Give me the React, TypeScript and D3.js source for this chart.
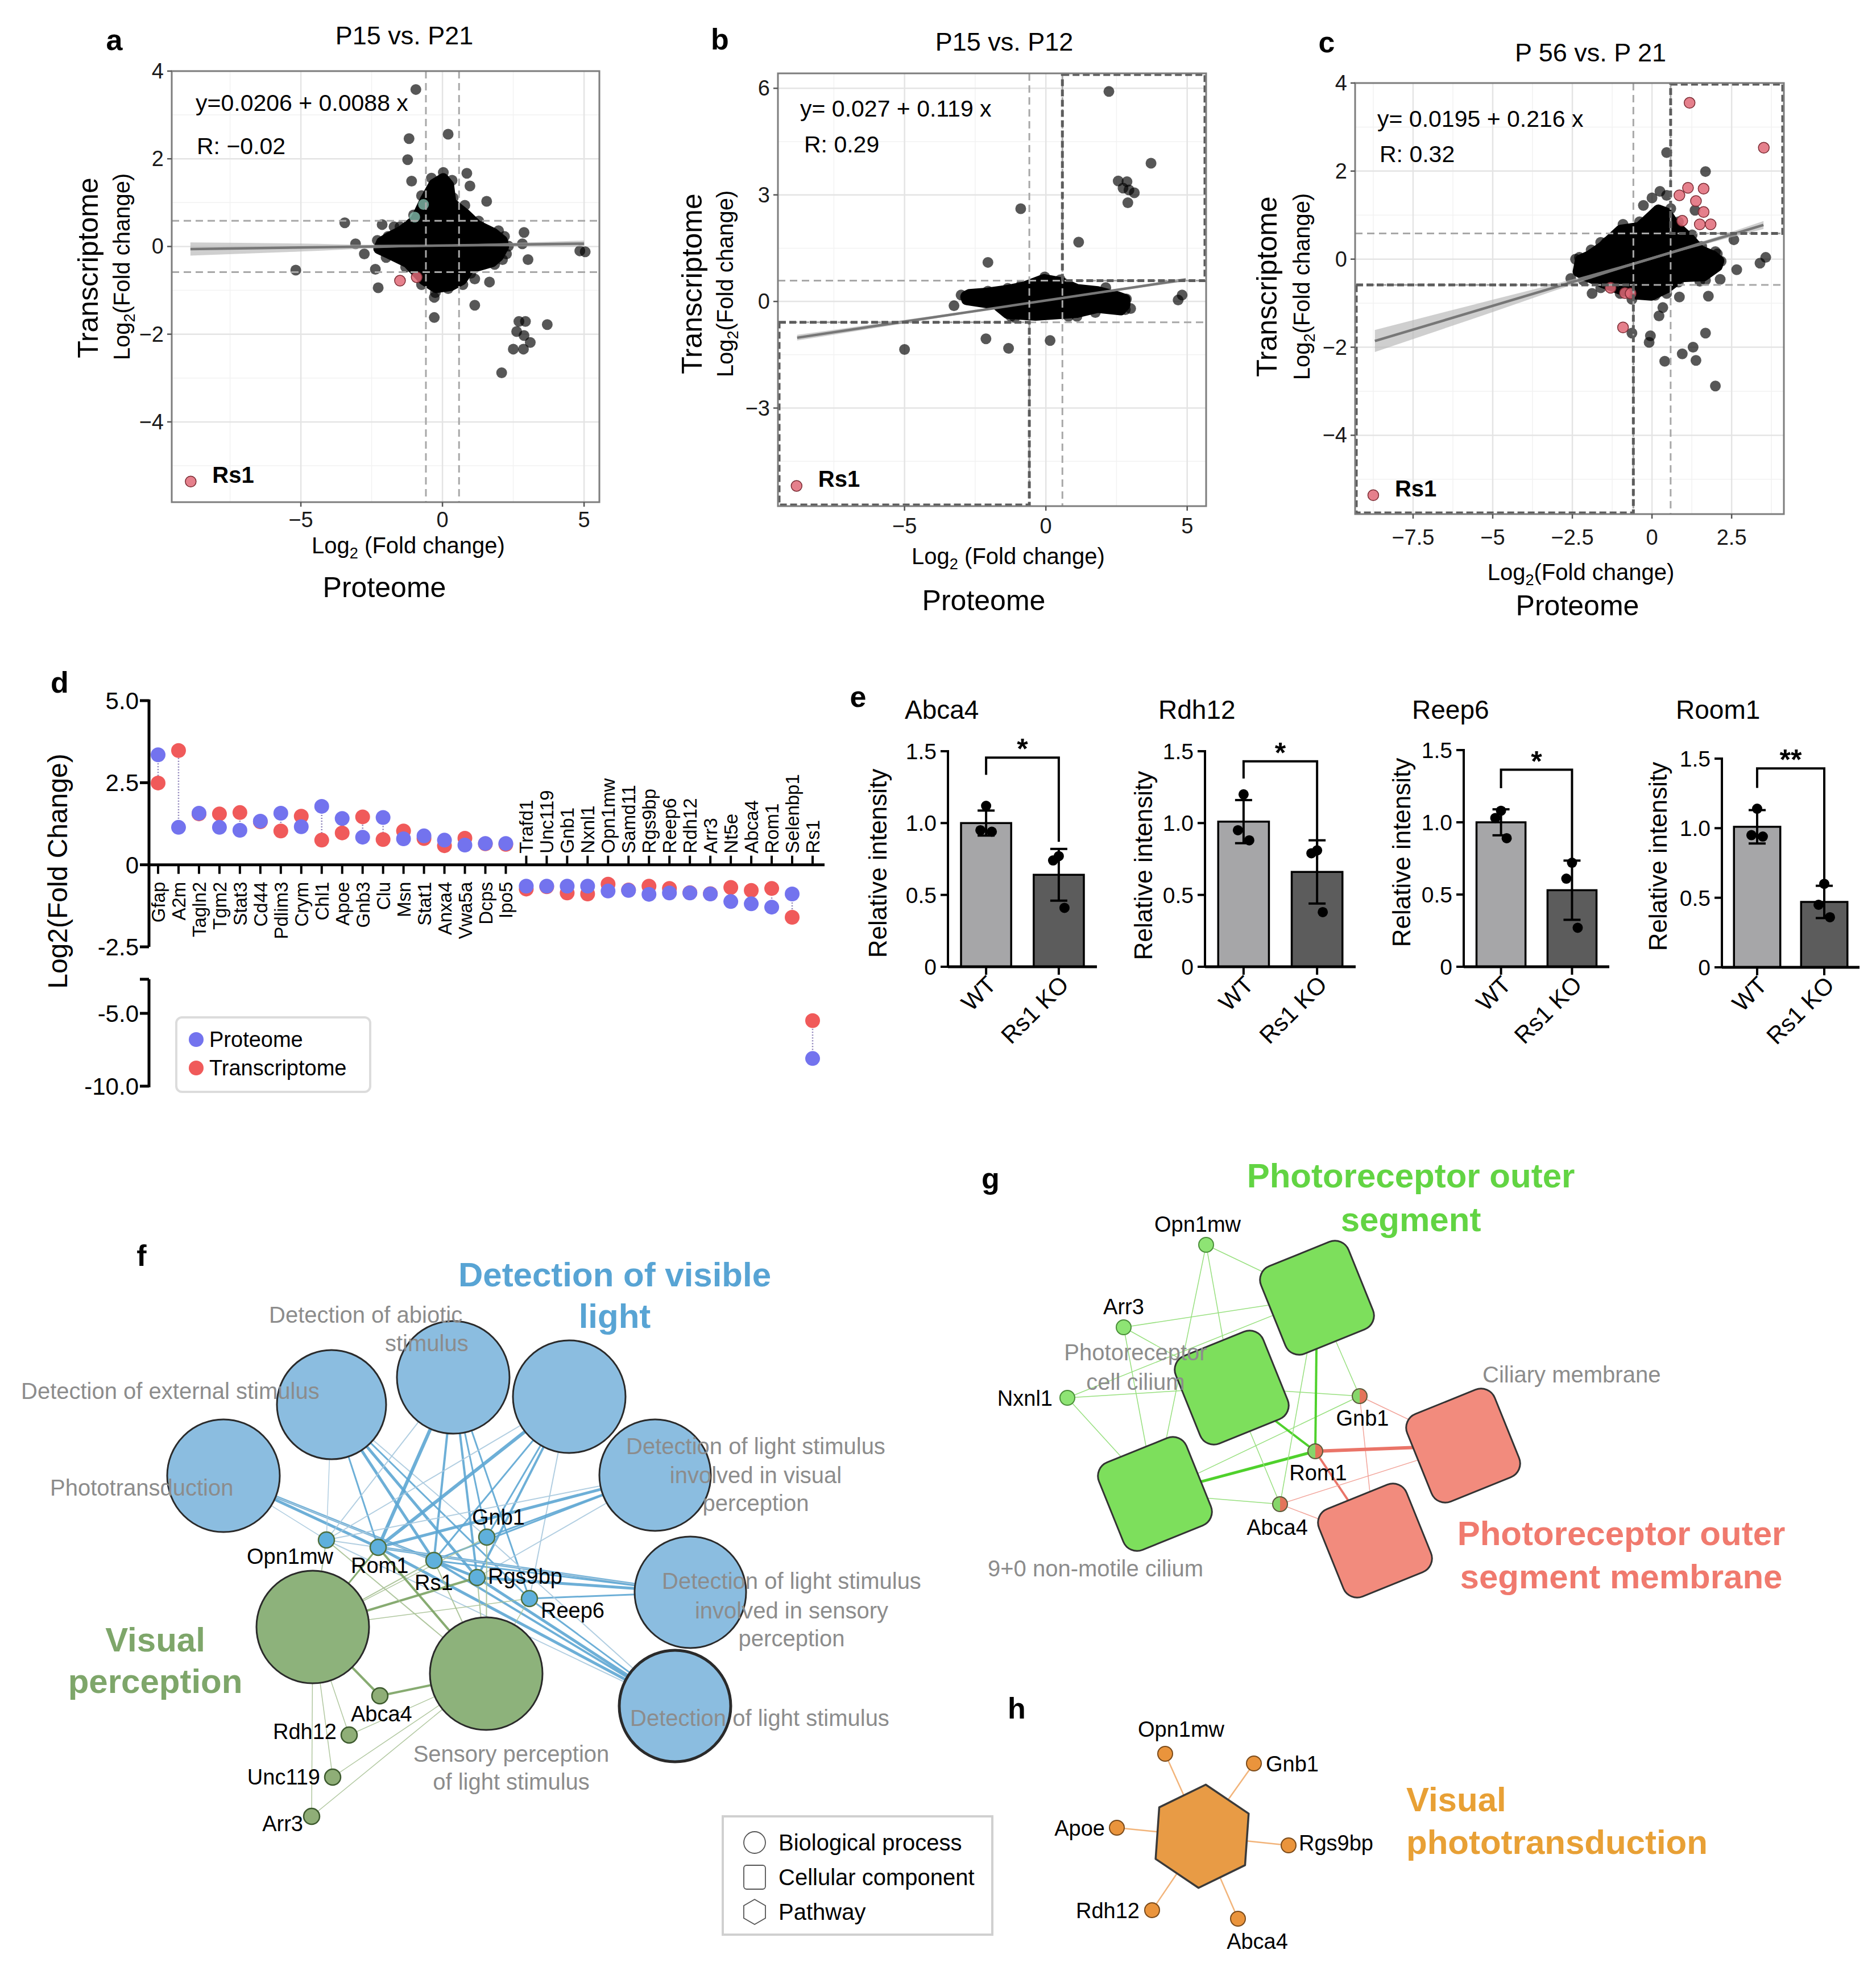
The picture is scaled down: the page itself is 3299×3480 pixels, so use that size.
import React from "react";
import * as d3 from "d3";

const FONT = "'Liberation Sans', Arial, Helvetica, sans-serif";
const THR = 0.585;

// ================= Panel a data =================
const aHull = [
  [-2.15, 0.1], [-1.9, 0.2], [-1.45, 0.35], [-0.95, 0.6], [-0.62, 1.05], [-0.3, 1.42], [0.03, 1.55],
  [0.22, 1.4], [0.3, 1.0], [0.8, 0.74], [1.22, 0.48], [1.8, 0.3], [2.12, 0.13], [2.16, 0.0],
  [1.98, -0.22], [1.75, -0.35], [0.95, -0.5], [0.68, -0.76], [0.3, -0.89], [-0.22, -0.94],
  [-0.66, -0.76], [-1.22, -0.37], [-1.92, -0.15], [-2.25, -0.05],
];
const aGray = [
  [-0.94, 3.58], [-1.18, 2.46], [0.2, 2.56], [-1.23, 1.98], [-1.09, 1.49], [0.86, 1.67], [0.97, 1.38],
  [1.56, 1.03], [0.79, 0.94], [-3.45, 0.54], [-2.13, 0.5], [-3.07, 0.06], [-2.76, -0.17], [-2.37, -0.52],
  [-2.27, -0.94], [-5.18, -0.54], [-0.29, -1.16], [-0.29, -1.62], [1.14, -1.34], [1.66, -0.81],
  [1.14, -0.74], [0.2, -0.96], [1.84, -0.41], [2.26, -0.17], [3.02, -0.3], [2.88, 0.32], [2.82, 0.06],
  [5.04, -0.12], [4.85, -0.1], [1.98, 0.36], [2.19, 0.23], [-1.71, 0.45], [-1.92, 0.23],
  [2.7, -1.71], [2.93, -1.71], [2.62, -1.94], [2.88, -2.03], [3.1, -2.19], [2.5, -2.34], [2.86, -2.34],
  [3.7, -1.78], [2.09, -2.88],
  [-2.3, 0.14], [-1.5, 0.45], [-1.02, 0.72], [-0.74, 1.16], [-0.39, 1.56], [0.03, 1.69], [0.34, 1.51],
  [0.38, 1.11], [1.28, 0.58], [2.33, 0.01], [2.12, -0.3], [1.0, -0.61], [0.72, -0.87], [-0.25, -1.05],
  [-0.74, -0.87], [-1.3, -0.47], [-1.99, -0.25],
];
const aRed = [[-8.89, -5.36], [-1.5, -0.78], [-0.91, -0.7]];
const aTeal = [[-0.67, 0.96], [-0.98, 0.67]];
const aFit = [0.0206, 0.0088];
const aFitRange = [-8.9, 5.0];
const aBand = [[-8.9, 0.15], [-5, 0.09], [-2.5, 0.04], [0, 0.02], [2.5, 0.04], [5.0, 0.07]];

// ================= Panel b data =================
const bHull = [
  [-2.82, 0.15], [-2.7, 0.2], [-2.05, 0.24], [-1.32, 0.32], [-0.8, 0.4], [-0.07, 0.62], [0.55, 0.53],
  [1.1, 0.34], [1.83, 0.28], [2.55, 0.13], [2.8, 0.06], [2.8, -0.1], [2.65, -0.24], [1.83, -0.17],
  [1.1, -0.31], [-0.37, -0.39], [-1.35, -0.34], [-1.75, -0.08], [-2.4, 0.0], [-2.8, 0.05],
];
const bGray = [
  [2.23, 5.91], [3.72, 3.89], [2.56, 3.39], [2.87, 3.37], [2.73, 3.19], [2.94, 3.14], [3.13, 3.06],
  [2.9, 2.78], [-0.89, 2.61], [1.16, 1.67], [-2.05, 1.1], [-3.25, -0.12], [-5.0, -1.35], [-2.12, -1.05],
  [-1.32, -1.32], [0.15, -1.1], [4.68, 0.04], [4.82, 0.18],
  [-0.04, 0.69], [-0.88, 0.45], [-1.35, 0.37], [-2.05, 0.29], [-2.85, 0.12], [-1.24, -0.42],
  [-1.1, -0.45], [0.8, -0.42], [2.16, -0.15], [2.81, -0.23], [2.85, 0.07], [2.12, 0.39], [0.51, 0.61],
  [1.1, -0.42], [1.75, -0.31], [-3.0, 0.18], [3.0, -0.2],
];
const bRed = [[-8.82, -5.19]];
const bFit = [0.027, 0.119];
const bFitRange = [-8.8, 4.95];
const bBand = [[-8.8, 0.08], [-5, 0.05], [0, 0.015], [2.5, 0.03], [4.95, 0.05]];

// ================= Panel c data =================
const cHull = [
  [-2.25, -0.02], [-1.95, 0.08], [-1.55, 0.28], [-0.98, 0.66], [-0.4, 0.72], [-0.05, 0.95], [0.2, 1.12],
  [0.45, 1.05], [0.7, 0.78], [1.2, 0.45], [1.5, 0.2], [1.92, 0.07], [2.1, -0.04], [2.05, -0.16],
  [1.62, -0.38], [0.92, -0.4], [0.44, -0.66], [-0.02, -0.82], [-0.6, -0.79], [-1.08, -0.66],
  [-1.56, -0.53], [-2.1, -0.37], [-2.32, -0.28],
];
const cGray = [
  [0.46, 2.42], [1.68, 1.99], [1.35, 1.11], [0.25, 1.54], [0.0, 1.39], [-0.27, 1.22], [0.46, 1.45],
  [-0.91, 0.79], [0.59, 1.15], [2.57, 0.44], [3.39, -0.09], [3.57, 0.04], [2.66, -0.24], [2.14, -0.46],
  [1.77, -0.84], [0.86, -0.86], [0.34, -1.1], [0.22, -1.29], [-1.88, -0.78], [-2.55, -0.44],
  [-0.05, -1.74], [-0.09, -1.89], [1.68, -1.68], [-0.63, -1.68], [0.4, -2.32], [0.95, -2.15],
  [1.29, -2.0], [1.38, -2.3], [1.99, -2.88],
  [-2.28, 0.04], [-1.91, 0.21], [-1.43, 0.38], [-1.0, -0.78], [0.1, -0.82], [0.83, -0.52], [1.5, -0.5],
  [2.17, -0.05], [2.05, 0.12], [-2.4, 0.0], [-1.61, 0.38], [-0.39, 0.85], [0.83, 0.85], [1.26, 0.55],
  [1.56, 0.29], [1.99, 0.17], [1.68, -0.48], [0.46, -0.78], [-0.63, -0.91], [-1.61, -0.65], [-2.16, -0.48],
];
const cRed = [
  [-8.75, -5.36], [3.51, 2.53], [1.18, 3.55], [1.13, 1.62], [1.62, 1.6], [0.86, 1.45], [0.95, 0.87],
  [1.62, 1.07], [1.5, 0.79], [1.84, 0.79], [1.38, 1.32], [-0.91, -1.55], [-1.3, -0.65], [-0.85, -0.77],
  [-0.67, -0.78],
];
const cFit = [0.0195, 0.216];
const cFitRange = [-8.7, 3.5];
const cBand = [[-8.7, 0.25], [-5, 0.14], [-2.5, 0.06], [0, 0.03], [2, 0.05], [3.5, 0.09]];

// ================= Panel d data =================
const dGenes = [
  "Gfap", "A2m", "Tagln2", "Tgm2", "Stat3", "Cd44", "Pdlim3", "Crym", "Chl1", "Apoe", "Gnb3",
  "Clu", "Msn", "Stat1", "Anxa4", "Vwa5a", "Dcps", "Ipo5", "Trafd1", "Unc119", "Gnb1", "Nxnl1",
  "Opn1mw", "Samd11", "Rgs9bp", "Reep6", "Rdh12", "Arr3", "Nt5e", "Abca4", "Rom1", "Selenbp1", "Rs1",
];
const dProteome = [
  3.35, 1.14, 1.57, 1.14, 1.05, 1.33, 1.57, 1.16, 1.78, 1.41, 0.84, 1.44, 0.79, 0.88, 0.75, 0.6,
  0.65, 0.65, -0.65, -0.65, -0.65, -0.65, -0.8, -0.78, -0.9, -0.86, -0.86, -0.89, -1.12, -1.19,
  -1.29, -0.89, -8.1,
];
const dTranscriptome = [
  2.49, 3.48, 1.55, 1.55, 1.59, 1.31, 1.03, 1.48, 0.75, 0.97, 1.46, 0.77, 1.03, 0.8, 0.58, 0.81,
  0.64, 0.62, -0.74, -0.67, -0.86, -0.89, -0.59, -0.77, -0.65, -0.72, -0.85, -0.88, -0.69, -0.78,
  -0.72, -1.6, -5.5,
];
const dUpperTicks = [5, 2.5, 0, -2.5];
const dUpperTickLabels = ["5.0", "2.5", "0", "-2.5"];
const dLowerTicks = [-5, -10];
const dLowerTickLabels = ["-5.0", "-10.0"];

// ================= Panel e data =================
const eGenes = ["Abca4", "Rdh12", "Reep6", "Room1"];
const eGroups = ["WT", "Rs1 KO"];
const eMeanWT = [1.0, 1.01, 1.0, 1.01];
const eMeanKO = [0.64, 0.66, 0.53, 0.47];
const eSdWT = [0.087, 0.15, 0.09, 0.12];
const eSdKO = [0.18, 0.22, 0.205, 0.116];
const eDotsWT = [[1.12, 0.95, 0.94], [1.2, 0.95, 0.88], [1.08, 1.03, 0.89], [1.14, 0.95, 0.94]];
const eDotsKO = [[0.77, 0.74, 0.41], [0.81, 0.79, 0.38], [0.72, 0.61, 0.27], [0.6, 0.45, 0.36]];
const eBracket = [1.455, 1.43, 1.364, 1.43];
const eLegL = [1.336, 1.31, 1.236, 1.29];
const eLegR = [0.87, 0.745, 0.736, 0.62];
const eStars = ["*", "*", "*", "**"];
const eTicks = [0, 0.5, 1.0, 1.5];
const eTickLabels = ["0", "0.5", "1.0", "1.5"];

// ================= Panel f data =================
const fTerms = [
  "Phototransduction", "Detection of external stimulus", "Detection of abiotic stimulus",
  "Detection of visible light", "Detection of light stimulus involved in visual perception",
  "Detection of light stimulus involved in sensory perception", "Detection of light stimulus",
  "Visual perception", "Sensory perception of light stimulus",
];
const fTermGroup = ["blue", "blue", "blue", "blue", "blue", "blue", "blue", "green", "green"];
const fGenes = ["Opn1mw", "Rom1", "Rs1", "Gnb1", "Rgs9bp", "Reep6", "Abca4", "Rdh12", "Unc119", "Arr3"];
const fGeneGroup = ["blue", "blue", "blue", "blue", "blue", "blue", "green", "green", "green", "green"];
const fEdges = [
  [0, "Rom1", 5], [0, "Rgs9bp", 5], [0, "Rs1", 2], [0, "Opn1mw", 1.5],
  [1, "Opn1mw", 1.5], [1, "Rom1", 3], [1, "Rs1", 5], [1, "Rgs9bp", 5], [1, "Reep6", 3], [1, "Gnb1", 2],
  [2, "Rom1", 6], [2, "Rs1", 4], [2, "Rgs9bp", 4], [2, "Gnb1", 3], [2, "Reep6", 3], [2, "Opn1mw", 2],
  [3, "Rom1", 6], [3, "Rs1", 3], [3, "Rgs9bp", 4], [3, "Gnb1", 3], [3, "Reep6", 2], [3, "Opn1mw", 2],
  [4, "Rom1", 5], [4, "Rs1", 3], [4, "Gnb1", 3], [4, "Rgs9bp", 2], [4, "Opn1mw", 2],
  [5, "Rom1", 5], [5, "Rgs9bp", 5], [5, "Rs1", 3], [5, "Reep6", 3], [5, "Opn1mw", 2],
  [6, "Rom1", 5], [6, "Rs1", 4], [6, "Rgs9bp", 5], [6, "Reep6", 3], [6, "Opn1mw", 2], [6, "Gnb1", 2],
  [7, "Rom1", 3], [7, "Rgs9bp", 4], [7, "Rs1", 2], [7, "Opn1mw", 2], [7, "Abca4", 4], [7, "Rdh12", 1.5],
  [7, "Unc119", 1.5], [7, "Arr3", 1.5], [7, "Reep6", 1.5], [7, "Gnb1", 1.5],
  [8, "Rom1", 4], [8, "Abca4", 4], [8, "Rgs9bp", 2], [8, "Rs1", 2], [8, "Opn1mw", 2], [8, "Rdh12", 1.5],
  [8, "Unc119", 1.5], [8, "Arr3", 1.5], [8, "Gnb1", 2], [8, "Reep6", 1.5],
];
const legendItems = ["Biological process", "Cellular component", "Pathway"];

// ================= Panel g data =================
const gTerms = ["Photoreceptor outer segment", "Photoreceptor cell cilium", "9+0 non-motile cilium",
  "Ciliary membrane", "Photoreceptor outer segment membrane"];
const gTermGroup = ["green", "green", "green", "red", "red"];
const gGenes = ["Opn1mw", "Arr3", "Nxnl1", "Gnb1", "Rom1", "Abca4"];
const gGeneBoth = [false, false, false, true, true, true];
const gEdges = [
  ["Opn1mw", 0, 1.5], ["Opn1mw", 1, 1.5], ["Opn1mw", 2, 1.5],
  ["Arr3", 0, 1.5], ["Arr3", 1, 1.5], ["Arr3", 2, 1.5],
  ["Nxnl1", 0, 1.5], ["Nxnl1", 1, 1.5], ["Nxnl1", 2, 1.5],
  ["Gnb1", 0, 1.5], ["Gnb1", 1, 1.5], ["Gnb1", 2, 1.5], ["Gnb1", 3, 1.5], ["Gnb1", 4, 1.5],
  ["Rom1", 0, 4], ["Rom1", 1, 4], ["Rom1", 2, 5], ["Rom1", 3, 6], ["Rom1", 4, 4],
  ["Abca4", 0, 1.5], ["Abca4", 1, 1.5], ["Abca4", 2, 1.5], ["Abca4", 3, 1.5], ["Abca4", 4, 1.5],
];

// ================= Panel h data =================
const hGenes = ["Opn1mw", "Gnb1", "Rgs9bp", "Abca4", "Rdh12", "Apoe"];

// ======================================================================
function Sub2({ pre, post }) {
  return (
    <>
      {pre}
      <tspan fontSize="0.68em" dy={9}>2</tspan>
      <tspan dy={-9}>{post}</tspan>
    </>
  );
}

const fmtTick = d3.format("~g");

function Scatter({ p }) {
  const x = d3.scaleLinear().domain(p.xDomain).range([p.left, p.right]);
  const y = d3.scaleLinear().domain(p.yDomain).range([p.bottom, p.top]);
  const clipId = "clip" + p.letter;
  const hullPath = d3.line().x((d) => x(d[0])).y((d) => y(d[1])).curve(d3.curveLinearClosed)(p.hull);
  const fitY = (v) => p.fit[0] + p.fit[1] * v;
  const band = d3.area()
    .x((d) => x(d[0]))
    .y0((d) => y(fitY(d[0]) - d[1]))
    .y1((d) => y(fitY(d[0]) + d[1]))
    .curve(d3.curveMonotoneX)(p.band);
  const R = 9.5;
  const xlo = p.xDomain[0], xhi = p.xDomain[1], ylo = p.yDomain[0], yhi = p.yDomain[1];
  const rsPt = p.rsPoint;
  return (
    <g fontFamily={FONT}>
      <defs>
        <clipPath id={clipId}>
          <rect x={p.left} y={p.top} width={p.right - p.left} height={p.bottom - p.top} />
        </clipPath>
      </defs>
      <text x={p.letterPos[0]} y={p.letterPos[1]} fontSize={52} fontWeight="bold" textAnchor="middle">{p.letter}</text>
      <text x={p.titlePos[0]} y={p.titlePos[1]} fontSize={45} textAnchor="middle">{p.title}</text>
      <rect x={p.left} y={p.top} width={p.right - p.left} height={p.bottom - p.top} fill="#fff" />
      <g clipPath={`url(#${clipId})`}>
        {p.xMinor.map((v) => (
          <line key={"xm" + v} x1={x(v)} x2={x(v)} y1={p.top} y2={p.bottom} stroke="#f2f2f2" strokeWidth={1.5} />
        ))}
        {p.yMinor.map((v) => (
          <line key={"ym" + v} y1={y(v)} y2={y(v)} x1={p.left} x2={p.right} stroke="#f2f2f2" strokeWidth={1.5} />
        ))}
        {p.xTicks.map((v) => (
          <line key={"xg" + v} x1={x(v)} x2={x(v)} y1={p.top} y2={p.bottom} stroke="#e4e4e4" strokeWidth={2.5} />
        ))}
        {p.yTicks.map((v) => (
          <line key={"yg" + v} y1={y(v)} y2={y(v)} x1={p.left} x2={p.right} stroke="#e4e4e4" strokeWidth={2.5} />
        ))}
        <path d={hullPath} fill="#000" stroke="#000" strokeWidth={2 * R} strokeLinejoin="round" />
        {p.gray.map((d, i) => (
          <circle key={"g" + i} cx={x(d[0])} cy={y(d[1])} r={R} fill="#000" fillOpacity={0.66} />
        ))}
        {(p.teal || []).map((d, i) => (
          <circle key={"t" + i} cx={x(d[0])} cy={y(d[1])} r={R} fill="#8cc9b8" fillOpacity={0.75} />
        ))}
        {p.red.map((d, i) => (
          <circle key={"r" + i} cx={x(d[0])} cy={y(d[1])} r={R} fill="#e06a78" fillOpacity={0.85} stroke="#7a2a32" strokeWidth={1.5} />
        ))}
        <path d={band} fill="#b5b5b5" fillOpacity={0.65} />
        <line x1={x(p.fitRange[0])} x2={x(p.fitRange[1])} y1={y(fitY(p.fitRange[0]))} y2={y(fitY(p.fitRange[1]))}
          stroke="#777" strokeWidth={4.5} />
        {[-THR, THR].map((v) => (
          <line key={"tv" + v} x1={x(v)} x2={x(v)} y1={p.top} y2={p.bottom} stroke="#a8a8a8" strokeWidth={3} strokeDasharray="13 8" />
        ))}
        {[-THR, THR].map((v) => (
          <line key={"th" + v} y1={y(v)} y2={y(v)} x1={p.left} x2={p.right} stroke="#a8a8a8" strokeWidth={3} strokeDasharray="13 8" />
        ))}
        {p.boxes && (
          <g fill="none" stroke="#5c5c5c" strokeWidth={5} strokeDasharray="12 6">
            <rect x={x(THR)} y={y(yhi) + 2} width={x(xhi) - x(THR) - 2} height={y(THR) - y(yhi) - 2} />
            <rect x={x(xlo) + 2} y={y(-THR)} width={x(-THR) - x(xlo) - 2} height={y(ylo) - y(-THR) - 2} />
          </g>
        )}
      </g>
      <rect x={p.left} y={p.top} width={p.right - p.left} height={p.bottom - p.top} fill="none" stroke="#7d7d7d" strokeWidth={3} />
      {p.xTicks.map((v) => (
        <g key={"xt" + v}>
          <line x1={x(v)} x2={x(v)} y1={p.bottom} y2={p.bottom + 8} stroke="#555" strokeWidth={2.5} />
          <text x={x(v)} y={p.tickLabelY} fontSize={38} textAnchor="middle" fill="#1a1a1a">{fmtTick(v)}</text>
        </g>
      ))}
      {p.yTicks.map((v) => (
        <g key={"yt" + v}>
          <line x1={p.left - 8} x2={p.left} y1={y(v)} y2={y(v)} stroke="#555" strokeWidth={2.5} />
          <text x={p.left - 14} y={y(v) + 13} fontSize={38} textAnchor="end" fill="#1a1a1a">{fmtTick(v)}</text>
        </g>
      ))}
      <text x={p.eqPos[0]} y={p.eqPos[1]} fontSize={41}>{p.eq}</text>
      <text x={p.rPos[0]} y={p.rPos[1]} fontSize={41}>{p.rText}</text>
      <text x={x(rsPt[0]) + 38} y={y(rsPt[1]) + 2} fontSize={40} fontWeight="bold">Rs1</text>
      <text x={p.xLabPos[0]} y={p.xLabPos[1]} fontSize={40} textAnchor="middle">
        <Sub2 pre="Log" post={p.xLabSpace ? " (Fold change)" : "(Fold change)"} />
      </text>
      <text x={p.protPos[0]} y={p.protPos[1]} fontSize={50} textAnchor="middle">Proteome</text>
      <text transform={`translate(${p.transPos[0]},${p.transPos[1]}) rotate(-90)`} fontSize={50} textAnchor="middle">Transcriptome</text>
      <text transform={`translate(${p.logPos[0]},${p.logPos[1]}) rotate(-90)`} fontSize={40} textAnchor="middle">
        <Sub2 pre="Log" post="(Fold change)" />
      </text>
    </g>
  );
}

const panelA = {
  letter: "a", letterPos: [201, 88], title: "P15 vs. P21", titlePos: [711, 78],
  left: 302, right: 1054, top: 125, bottom: 883,
  xDomain: [-9.56, 5.54], yDomain: [-5.83, 4.0],
  xTicks: [-5, 0, 5], xMinor: [-7.5, -2.5, 2.5], yTicks: [-4, -2, 0, 2, 4], yMinor: [-5, -3, -1, 1, 3],
  hull: aHull, gray: aGray, red: aRed, teal: aTeal, fit: aFit, fitRange: aFitRange, band: aBand,
  eq: "y=0.0206 + 0.0088 x", eqPos: [344, 195], rText: "R: \u22120.02", rPos: [346, 271],
  boxes: false, rsPoint: aRed[0], tickLabelY: 927, xLabPos: [718, 973], xLabSpace: true,
  protPos: [676, 1050], transPos: [172, 471], logPos: [228, 469],
};
const panelB = {
  letter: "b", letterPos: [1266, 87], title: "P15 vs. P12", titlePos: [1766, 89],
  left: 1368, right: 2121, top: 129, bottom: 890,
  xDomain: [-9.48, 5.67], yDomain: [-5.76, 6.42],
  xTicks: [-5, 0, 5], xMinor: [-7.5, -2.5, 2.5], yTicks: [-3, 0, 3, 6], yMinor: [-4.5, -1.5, 1.5, 4.5],
  hull: bHull, gray: bGray, red: bRed, fit: bFit, fitRange: bFitRange, band: bBand,
  eq: "y= 0.027 + 0.119 x", eqPos: [1407, 205], rText: "R: 0.29", rPos: [1414, 268],
  boxes: true, rsPoint: bRed[0], tickLabelY: 938, xLabPos: [1773, 992], xLabSpace: true,
  protPos: [1730, 1073], transPos: [1234, 499], logPos: [1289, 499],
};
const panelC = {
  letter: "c", letterPos: [2333, 92], title: "P 56 vs. P 21", titlePos: [2797, 108],
  left: 2383, right: 3137, top: 146, bottom: 904,
  xDomain: [-9.32, 4.14], yDomain: [-5.79, 4.0],
  xTicks: [-7.5, -5, -2.5, 0, 2.5], xMinor: [-8.75, -6.25, -3.75, -1.25, 1.25, 3.75],
  yTicks: [-4, -2, 0, 2, 4], yMinor: [-5, -3, -1, 1, 3],
  hull: cHull, gray: cGray, red: cRed, fit: cFit, fitRange: cFitRange, band: cBand,
  eq: "y= 0.0195 + 0.216 x", eqPos: [2422, 223], rText: "R: 0.32", rPos: [2426, 285],
  boxes: true, rsPoint: cRed[0], tickLabelY: 958, xLabPos: [2780, 1020], xLabSpace: false,
  protPos: [2774, 1082], transPos: [2245, 504], logPos: [2303, 504],
};

// ======================================================================
function PanelD() {
  const axX = 262;
  const x = d3.scalePoint().domain(dGenes).range([278, 1429]);
  const yU = d3.scaleLinear().domain([-2.5, 5]).range([1665, 1232]);
  const yL = d3.scaleLinear().domain([-10, -2.66]).range([1910, 1722]);
  const yv = (v) => (v >= -2.6 ? yU(v) : yL(v));
  const y0 = yU(0);
  const BLUE = "#7373ee", RED = "#f05a5a";
  return (
    <g fontFamily={FONT}>
      <text x={105} y={1218} fontSize={52} fontWeight="bold" textAnchor="middle">d</text>
      <line x1={axX} x2={axX} y1={yU(5) - 2} y2={yU(-2.5)} stroke="#000" strokeWidth={5} />
      <line x1={axX} x2={axX} y1={yL(-2.66)} y2={yL(-10) + 2} stroke="#000" strokeWidth={5} />
      {dUpperTicks.map((v, i) => (
        <g key={"u" + v}>
          <line x1={axX - 16} x2={axX} y1={yU(v)} y2={yU(v)} stroke="#000" strokeWidth={5} />
          <text x={axX - 18} y={yU(v) + 15} fontSize={42} textAnchor="end">{dUpperTickLabels[i]}</text>
        </g>
      ))}
      <line x1={axX - 16} x2={axX} y1={yL(-2.66)} y2={yL(-2.66)} stroke="#000" strokeWidth={5} />
      {dLowerTicks.map((v, i) => (
        <g key={"l" + v}>
          <line x1={axX - 16} x2={axX} y1={yL(v)} y2={yL(v)} stroke="#000" strokeWidth={5} />
          <text x={axX - 18} y={yL(v) + 15} fontSize={42} textAnchor="end">{dLowerTickLabels[i]}</text>
        </g>
      ))}
      <line x1={axX} x2={1450} y1={y0} y2={y0} stroke="#000" strokeWidth={5} />
      <text transform={`translate(118,1532) rotate(-90)`} fontSize={48} textAnchor="middle">Log2(Fold Change)</text>
      {dGenes.map((g, i) => {
        const up = dProteome[i] > 0;
        const cx = x(g);
        return (
          <g key={g}>
            <line x1={cx} x2={cx} y1={y0} y2={up ? y0 + 16 : y0 - 16} stroke="#000" strokeWidth={4} />
            {up ? (
              <text transform={`translate(${cx + 12},${y0 + 30}) rotate(-90)`} fontSize={33} textAnchor="end">{g}</text>
            ) : (
              <text transform={`translate(${cx + 12},${y0 - 20}) rotate(-90)`} fontSize={33} textAnchor="start">{g}</text>
            )}
            <line x1={cx} x2={cx} y1={yv(dProteome[i])} y2={yv(dTranscriptome[i])} stroke="#8a7fb8" strokeWidth={2.5} strokeDasharray="2 3" />
            <circle cx={cx} cy={yv(dTranscriptome[i])} r={13} fill={RED} />
            <circle cx={cx} cy={yv(dProteome[i])} r={13} fill={BLUE} />
          </g>
        );
      })}
      <rect x={310} y={1789} width={341} height={131} rx={10} fill="#fff" stroke="#dcdcdc" strokeWidth={4} />
      <circle cx={345} cy={1828} r={13} fill={BLUE} />
      <text x={368} y={1841} fontSize={38}>Proteome</text>
      <circle cx={345} cy={1878} r={13} fill={RED} />
      <text x={368} y={1891} fontSize={38}>Transcriptome</text>
    </g>
  );
}

// ======================================================================
const eLayout = [
  { axX: 1667, len: 262, y0: 1700, y15: 1321, titleX: 1591, labX: 1544, labY: 1518 },
  { axX: 2119, len: 265, y0: 1700, y15: 1321, titleX: 2037, labX: 2011, labY: 1522 },
  { axX: 2574, len: 256, y0: 1700, y15: 1319, titleX: 2483, labX: 2465, labY: 1499 },
  { axX: 3028, len: 242, y0: 1701, y15: 1334, titleX: 2947, labX: 2916, labY: 1506 },
];
const eOffsets = [0, -10, 10];

function PanelE() {
  return (
    <g fontFamily={FONT}>
      <text x={1509} y={1243} fontSize={52} fontWeight="bold" textAnchor="middle">e</text>
      {eGenes.map((gene, i) => {
        const L = eLayout[i];
        const x = d3.scaleBand().domain(eGroups).range([L.axX, L.axX + L.len]).paddingInner(0.31).paddingOuter(0.18);
        const y = d3.scaleLinear().domain([0, 1.5]).range([L.y0, L.y15]);
        const bw = x.bandwidth();
        const cW = x("WT") + bw / 2;
        const cK = x("Rs1 KO") + bw / 2;
        const means = [eMeanWT[i], eMeanKO[i]];
        const sds = [eSdWT[i], eSdKO[i]];
        const dots = [eDotsWT[i], eDotsKO[i]];
        const fills = ["#a6a6a8", "#5c5c5c"];
        return (
          <g key={gene}>
            <text x={L.titleX} y={1264} fontSize={46}>{gene}</text>
            {eGroups.map((g, j) => {
              const cx = x(g) + bw / 2;
              return (
                <g key={g}>
                  <rect x={x(g)} y={y(means[j])} width={bw} height={L.y0 - y(means[j])} fill={fills[j]} stroke="#000" strokeWidth={3.5} />
                  <line x1={cx} x2={cx} y1={y(means[j] + sds[j])} y2={y(means[j] - sds[j])} stroke="#000" strokeWidth={4} />
                  <line x1={cx - 15} x2={cx + 15} y1={y(means[j] + sds[j])} y2={y(means[j] + sds[j])} stroke="#000" strokeWidth={4} />
                  <line x1={cx - 15} x2={cx + 15} y1={y(means[j] - sds[j])} y2={y(means[j] - sds[j])} stroke="#000" strokeWidth={4} />
                  {dots[j].map((v, k) => (
                    <circle key={k} cx={cx + eOffsets[k]} cy={y(v)} r={9} fill="#000" />
                  ))}
                  <line x1={cx} x2={cx} y1={L.y0} y2={L.y0 + 14} stroke="#000" strokeWidth={4} />
                  <text transform={`translate(${cx + 20},${L.y0 + 34}) rotate(-45)`} fontSize={42} textAnchor="end">{g}</text>
                </g>
              );
            })}
            <line x1={L.axX} x2={L.axX} y1={y(1.5) - 2} y2={L.y0} stroke="#000" strokeWidth={4} />
            <line x1={L.axX} x2={L.axX + L.len} y1={L.y0} y2={L.y0} stroke="#000" strokeWidth={5} />
            {eTicks.map((v, k) => (
              <g key={v}>
                <line x1={L.axX - 13} x2={L.axX} y1={y(v)} y2={y(v)} stroke="#000" strokeWidth={4} />
                <text x={L.axX - 20} y={y(v) + 14} fontSize={39} textAnchor="end">{eTickLabels[k]}</text>
              </g>
            ))}
            <text transform={`translate(${L.labX},${L.labY}) rotate(-90)`} fontSize={44} textAnchor="middle" dy={15}>Relative intensity</text>
            <path d={`M${cW},${y(eLegL[i])}V${y(eBracket[i])}H${cK}V${y(eLegR[i])}`} fill="none" stroke="#000" strokeWidth={4} />
            <text x={(cW + cK) / 2} y={y(eBracket[i]) + 2} fontSize={50} fontWeight="bold" textAnchor="middle">{eStars[i]}</text>
          </g>
        );
      })}
    </g>
  );
}

// ======================================================================
const fTermPos = [
  [393, 2595, 99], [583, 2470, 96], [797, 2422, 99], [1001, 2456, 99], [1152, 2594, 98],
  [1214, 2800, 98], [1187, 3000, 98], [550, 2861, 99], [855, 2943, 99],
];
const fGenePos = {
  Opn1mw: [574, 2708], Rom1: [665, 2721], Rs1: [763, 2744], Gnb1: [856, 2703], Rgs9bp: [839, 2774],
  Reep6: [931, 2811], Abca4: [668, 2982], Rdh12: [614, 3051], Unc119: [585, 3125], Arr3: [548, 3194],
};
const fGeneLab = {
  Opn1mw: [586, 2750, "end"], Rom1: [617, 2766, "start"], Rs1: [729, 2796, "start"],
  Gnb1: [830, 2681, "start"], Rgs9bp: [858, 2785, "start"], Reep6: [951, 2845, "start"],
  Abca4: [617, 3027, "start"], Rdh12: [592, 3058, "end"], Unc119: [563, 3138, "end"], Arr3: [533, 3220, "end"],
};
const fTermLabLines = [
  [["Phototransduction", 88, 2630, "start"]],
  [["Detection of external stimulus", 37, 2460, "start"]],
  [["Detection of abiotic", 473, 2326, "start"], ["stimulus", 677, 2376, "start"]],
  [],
  [["Detection of light stimulus", 1329, 2557, "middle"], ["involved in visual", 1329, 2608, "middle"], ["perception", 1329, 2657, "middle"]],
  [["Detection of light stimulus", 1392, 2794, "middle"], ["involved in sensory", 1392, 2846, "middle"], ["perception", 1392, 2895, "middle"]],
  [["Detection of light stimulus", 1336, 3035, "middle"]],
  [],
  [["Sensory perception", 899, 3098, "middle"], ["of light stimulus", 899, 3147, "middle"]],
];

function hexPath(cx, cy, r, rot) {
  const pts = d3.range(6).map((k) => {
    const a = ((rot + k * 60) * Math.PI) / 180;
    return [cx + r * Math.cos(a), cy + r * Math.sin(a)];
  });
  return d3.line().curve(d3.curveLinearClosed)(pts);
}

function PanelF() {
  const BLUE_T = "#8bbde0", GREEN_T = "#8db27b";
  return (
    <g fontFamily={FONT}>
      <text x={249} y={2226} fontSize={52} fontWeight="bold" textAnchor="middle">f</text>
      {fEdges.map((e, i) => {
        const t = fTermPos[e[0]];
        const g = fGenePos[e[1]];
        const isBlue = fTermGroup[e[0]] === "blue";
        const w = e[2];
        const col = isBlue ? (w <= 2 ? "#a9c9de" : "#5da6d3") : (w <= 2 ? "#a7c195" : "#7aa262");
        return <line key={i} x1={t[0]} y1={t[1]} x2={g[0]} y2={g[1]} stroke={col} strokeWidth={w} strokeOpacity={0.9} />;
      })}
      {fTerms.map((t, i) => {
        const p = fTermPos[i];
        return (
          <circle key={t} cx={p[0]} cy={p[1]} r={p[2]} fill={fTermGroup[i] === "blue" ? BLUE_T : GREEN_T}
            stroke="#2a2a2a" strokeWidth={i === 6 ? 5 : 3} />
        );
      })}
      {fGenes.map((g, i) => {
        const p = fGenePos[g];
        const blue = fGeneGroup[i] === "blue";
        return <circle key={g} cx={p[0]} cy={p[1]} r={14} fill={blue ? "#5fb0dc" : "#8fae77"} stroke={blue ? "#4f6f3c" : "#3d5a2e"} strokeWidth={2.5} />;
      })}
      {fTermLabLines.map((lines, i) =>
        lines.map((l, k) => (
          <text key={i + "-" + k} x={l[1]} y={l[2]} fontSize={40} textAnchor={l[3]} fill="#8c8c8c">{l[0]}</text>
        ))
      )}
      {fGenes.map((g) => {
        const l = fGeneLab[g];
        return <text key={g} x={l[0]} y={l[1]} fontSize={38} textAnchor={l[2]}>{g}</text>;
      })}
      <text x={1081} y={2262} fontSize={60} fontWeight="bold" fill="#58a4d4" textAnchor="middle">Detection of visible</text>
      <text x={1081} y={2335} fontSize={60} fontWeight="bold" fill="#58a4d4" textAnchor="middle">light</text>
      <text x={273} y={2904} fontSize={60} fontWeight="bold" fill="#7ea66a" textAnchor="middle">Visual</text>
      <text x={273} y={2977} fontSize={60} fontWeight="bold" fill="#7ea66a" textAnchor="middle">perception</text>
      <rect x={1271} y={3194} width={474} height={208} fill="#fff" stroke="#d0d0d0" strokeWidth={4} />
      <circle cx={1327} cy={3240} r={19} fill="#fff" stroke="#555" strokeWidth={1.8} />
      <rect x={1308} y={3280} width={38} height={42} rx={5} fill="#fff" stroke="#555" strokeWidth={1.8} />
      <path d={hexPath(1327, 3362, 22, -90)} fill="#fff" stroke="#555" strokeWidth={1.8} />
      {legendItems.map((t, i) => (
        <text key={t} x={1369} y={3254 + i * 61} fontSize={40}>{t}</text>
      ))}
    </g>
  );
}

// ======================================================================
const gTermPos = [[2316, 2282], [2166, 2440], [2031, 2627], [2573, 2542], [2418, 2709]];
const gGenePos = {
  Opn1mw: [2121, 2189], Arr3: [1976, 2334], Nxnl1: [1877, 2458], Gnb1: [2391, 2455],
  Rom1: [2313, 2552], Abca4: [2251, 2645],
};
const gGeneLab = {
  Opn1mw: [2106, 2166, "middle"], Arr3: [1976, 2311, "middle"], Nxnl1: [1851, 2472, "end"],
  Gnb1: [2396, 2507, "middle"], Rom1: [2318, 2603, "middle"], Abca4: [2246, 2699, "middle"],
};

function PanelG() {
  const GREEN = "#7ddf5c", RED = "#f28b7d";
  const S = 166;
  const halfL = d3.arc().innerRadius(0).outerRadius(13).startAngle(Math.PI).endAngle(2 * Math.PI)();
  const halfR = d3.arc().innerRadius(0).outerRadius(13).startAngle(0).endAngle(Math.PI)();
  return (
    <g fontFamily={FONT}>
      <text x={1742} y={2090} fontSize={52} fontWeight="bold" textAnchor="middle">g</text>
      {gEdges.map((e, i) => {
        const g = gGenePos[e[0]];
        const t = gTermPos[e[1]];
        const red = gTermGroup[e[1]] === "red";
        const w = e[2];
        const col = red ? (w <= 2 ? "#f2a59b" : "#ea7468") : (w <= 2 ? "#98e07f" : "#4fd12c");
        return <line key={i} x1={g[0]} y1={g[1]} x2={t[0]} y2={t[1]} stroke={col} strokeWidth={w} />;
      })}
      {gTerms.map((t, i) => {
        const p = gTermPos[i];
        return (
          <rect key={t} x={-S / 2} y={-S / 2} width={S} height={S} rx={26}
            transform={`translate(${p[0]},${p[1]}) rotate(-22)`}
            fill={gTermGroup[i] === "green" ? GREEN : RED} stroke="#333" strokeWidth={3} />
        );
      })}
      {gGenes.map((g, i) => {
        const p = gGenePos[g];
        return gGeneBoth[i] ? (
          <g key={g} transform={`translate(${p[0]},${p[1]})`}>
            <path d={halfL} fill="#86d66a" />
            <path d={halfR} fill="#e4745a" />
            <circle r={13} fill="none" stroke="#5a5a3a" strokeWidth={2} />
          </g>
        ) : (
          <circle key={g} cx={p[0]} cy={p[1]} r={13} fill="#8ee474" stroke="#4b8f3a" strokeWidth={2} />
        );
      })}
      <text x={1997} y={2392} fontSize={40} fill="#8c8c8c" textAnchor="middle">Photoreceptor</text>
      <text x={1997} y={2444} fontSize={40} fill="#8c8c8c" textAnchor="middle">cell cilium</text>
      <text x={2607} y={2431} fontSize={40} fill="#8c8c8c">Ciliary membrane</text>
      <text x={1737} y={2772} fontSize={40} fill="#8c8c8c">9+0 non-motile cilium</text>
      {gGenes.map((g) => {
        const l = gGeneLab[g];
        return <text key={g} x={l[0]} y={l[1]} fontSize={38} textAnchor={l[2]}>{g}</text>;
      })}
      <text x={2481} y={2088} fontSize={60} fontWeight="bold" fill="#62d443" textAnchor="middle">Photoreceptor outer</text>
      <text x={2481} y={2165} fontSize={60} fontWeight="bold" fill="#62d443" textAnchor="middle">segment</text>
      <text x={2851} y={2717} fontSize={60} fontWeight="bold" fill="#f07a6e" textAnchor="middle">Photoreceptor outer</text>
      <text x={2851} y={2793} fontSize={60} fontWeight="bold" fill="#f07a6e" textAnchor="middle">segment membrane</text>
    </g>
  );
}

// ======================================================================
const hCenter = [2114, 3229];
const hGenePos = {
  Opn1mw: [2049, 3084], Gnb1: [2205, 3101], Rgs9bp: [2266, 3245], Abca4: [2177, 3374],
  Rdh12: [2026, 3359], Apoe: [1964, 3214],
};
const hGeneLab = {
  Opn1mw: [2077, 3054, "middle"], Gnb1: [2226, 3115, "start"], Rgs9bp: [2284, 3254, "start"],
  Abca4: [2211, 3427, "middle"], Rdh12: [2004, 3373, "end"], Apoe: [1943, 3228, "end"],
};

function PanelH() {
  return (
    <g fontFamily={FONT}>
      <text x={1788} y={3022} fontSize={52} fontWeight="bold" textAnchor="middle">h</text>
      {hGenes.map((g) => {
        const p = hGenePos[g];
        return <line key={g} x1={hCenter[0]} y1={hCenter[1]} x2={p[0]} y2={p[1]} stroke="#f2b47a" strokeWidth={2.5} />;
      })}
      <path d={hexPath(hCenter[0], hCenter[1], 91, -86)} fill="#e89b45" stroke="#3a3a3a" strokeWidth={3.5} strokeLinejoin="round" />
      {hGenes.map((g) => {
        const p = hGenePos[g];
        return <circle key={g} cx={p[0]} cy={p[1]} r={13} fill="#ea943c" stroke="#7a4a1a" strokeWidth={2} />;
      })}
      {hGenes.map((g) => {
        const l = hGeneLab[g];
        return <text key={g} x={l[0]} y={l[1]} fontSize={38} textAnchor={l[2]}>{g}</text>;
      })}
      <text x={2473} y={3185} fontSize={60} fontWeight="bold" fill="#e8a035">Visual</text>
      <text x={2473} y={3260} fontSize={60} fontWeight="bold" fill="#e8a035">phototransduction</text>
    </g>
  );
}

export default function App() {
  return (
    <svg width={3299} height={3480} viewBox="0 0 3299 3480"
      style={{ position: "absolute", left: 0, top: 0, background: "#fff" }}>
      <rect x={0} y={0} width={3299} height={3480} fill="#fff" />
      <Scatter p={panelA} />
      <Scatter p={panelB} />
      <Scatter p={panelC} />
      <PanelD />
      <PanelE />
      <PanelF />
      <PanelG />
      <PanelH />
    </svg>
  );
}
